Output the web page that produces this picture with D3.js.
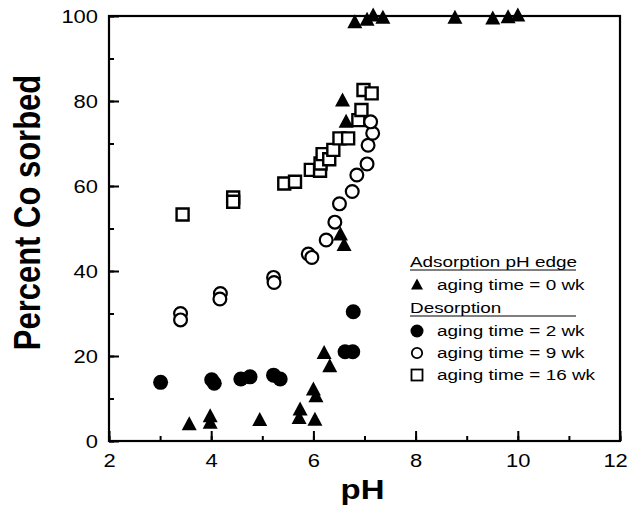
<!DOCTYPE html>
<html>
<head>
<meta charset="utf-8">
<script src="https://cdn.jsdelivr.net/npm/d3@7"></script>
<style>
  body { margin: 0; background: #fff; }
  text { font-family: "Liberation Sans", Arial, Helvetica, sans-serif; fill: #000; }
</style>
</head>
<body>
<div id="chart"></div>
<script>
// values: [pH, percent Co sorbed]
const adsorption0wk = [
  [3.57, 3.8], [3.98, 5.7], [3.98, 4.2], [4.95, 4.8], [5.72, 5.3], [5.74, 7.3],
  [6.03, 4.9], [6.0, 12], [6.05, 10.4], [6.21, 20.6], [6.32, 17.5], [6.53, 48.5],
  [6.6, 46], [6.57, 80], [6.64, 75], [6.81, 98.4], [7.05, 99], [7.17, 100],
  [7.36, 99.5], [8.77, 99.5], [9.51, 99.3], [9.81, 99.6], [10.0, 100]
];
const desorption2wk = [
  [3.01, 13.8], [4.01, 14.4], [4.06, 13.6], [4.58, 14.6], [4.76, 15.1],
  [5.22, 15.5], [5.35, 14.6], [6.62, 21], [6.77, 21], [6.78, 30.4]
];
const desorption9wk = [
  [3.4, 30], [3.4, 28.5], [4.18, 34.7], [4.17, 33.4], [5.22, 38.5], [5.23, 37.3],
  [5.9, 44], [5.97, 43.2], [6.25, 47.3], [6.42, 51.5], [6.51, 55.8], [6.76, 58.7],
  [6.85, 62.6], [7.05, 65.2], [7.07, 69.6], [7.16, 72.4], [7.12, 75.1]
];
const desorption16wk = [
  [3.44, 53.3], [4.43, 57.3], [4.43, 56.3], [5.43, 60.6], [5.64, 61], [5.95, 63.8],
  [6.13, 63.6], [6.14, 65.3], [6.18, 67.5], [6.31, 66.3], [6.39, 68.5], [6.51, 71.2],
  [6.68, 71.2], [6.88, 75.5], [6.94, 77.9], [6.98, 82.6], [7.14, 81.8]
];
const xTicks = [2, 4, 6, 8, 10, 12];
const yTicks = [0, 20, 40, 60, 80, 100];
const legendHeaders = ['Adsorption pH edge', 'Desorption'];
const legendLabels = ['aging time = 0 wk', 'aging time = 2 wk', 'aging time = 9 wk', 'aging time = 16 wk'];

const W = 631, H = 507;
const margin = { top: 16, right: 11, bottom: 66, left: 109 };
const width = W - margin.left - margin.right;
const height = H - margin.top - margin.bottom;
const STRETCH = 1.22; // glyphs in the picture are wider than tall

const svg = d3.select('#chart').append('svg')
  .attr('width', W)
  .attr('height', H);

const chart = svg.append('g')
  .attr('transform', `translate(${margin.left},${margin.top})`);

const x = d3.scaleLinear().domain([2, 12]).range([0, width]);
const y = d3.scaleLinear().domain([0, 100]).range([height, 0]);

// minor ticks (every 1 pH, every 10 %)
chart.append('g')
  .attr('transform', `translate(0,${height})`)
  .call(d3.axisBottom(x).ticks(10).tickSize(-5).tickFormat(''))
  .call(g => g.select('.domain').remove())
  .selectAll('line').attr('stroke-width', 2);
chart.append('g')
  .call(d3.axisLeft(y).ticks(10).tickSize(-5).tickFormat(''))
  .call(g => g.select('.domain').remove())
  .selectAll('line').attr('stroke-width', 2);

// major ticks
const xAxisG = chart.append('g')
  .attr('transform', `translate(0,${height})`)
  .call(d3.axisBottom(x).tickValues(xTicks).tickSize(-10).tickPadding(0));
xAxisG.select('.domain').remove();
xAxisG.selectAll('line').attr('stroke-width', 2);
xAxisG.selectAll('text')
  .attr('font-size', 18)
  .attr('y', 26)
  .attr('dy', 0)
  .attr('x', d => d === 12 ? -4 : 0)
  .attr('transform', `scale(${STRETCH},1)`);

const yAxisG = chart.append('g')
  .call(d3.axisLeft(y).tickValues(yTicks).tickSize(-10).tickPadding(0));
yAxisG.select('.domain').remove();
yAxisG.selectAll('line').attr('stroke-width', 2);
yAxisG.selectAll('text')
  .attr('font-size', 18)
  .attr('x', -11 / STRETCH)
  .attr('dy', '0.36em')
  .attr('transform', `scale(${STRETCH},1)`);

// frame
chart.append('rect')
  .attr('x', 0).attr('y', 0)
  .attr('width', width).attr('height', height)
  .attr('fill', 'none')
  .attr('stroke', '#000')
  .attr('stroke-width', 2.2);

// axis titles
svg.append('text')
  .attr('transform', `translate(${margin.left + width / 2 - 2},${H - 8}) scale(${STRETCH},1)`)
  .attr('text-anchor', 'middle')
  .attr('font-size', 27)
  .attr('font-weight', 'bold')
  .text('pH');

svg.append('text')
  .attr('transform', `translate(40,${margin.top + height / 2 - 16}) scale(${STRETCH},1) rotate(-90)`)
  .attr('text-anchor', 'middle')
  .attr('font-size', 31)
  .attr('font-weight', 'bold')
  .text('Percent Co sorbed');

// markers
const triPath = 'M0,-8.5L7.5,5.5L-7.5,5.5Z';
const squarePath = 'M-6,-6H6V6H-6Z';

chart.selectAll('.sq16')
  .data(desorption16wk)
  .join('path')
  .attr('class', 'sq16')
  .attr('d', squarePath)
  .attr('transform', d => `translate(${x(d[0])},${y(d[1])})`)
  .attr('fill', '#fff')
  .attr('stroke', '#000')
  .attr('stroke-width', 2.4);

chart.selectAll('.c9')
  .data(desorption9wk)
  .join('circle')
  .attr('class', 'c9')
  .attr('cx', d => x(d[0]))
  .attr('cy', d => y(d[1]))
  .attr('r', 6.4)
  .attr('fill', '#fff')
  .attr('stroke', '#000')
  .attr('stroke-width', 2.2);

chart.selectAll('.c2')
  .data(desorption2wk)
  .join('circle')
  .attr('class', 'c2')
  .attr('cx', d => x(d[0]))
  .attr('cy', d => y(d[1]))
  .attr('r', 7.5)
  .attr('fill', '#000');

chart.selectAll('.t0')
  .data(adsorption0wk)
  .join('path')
  .attr('class', 't0')
  .attr('d', triPath)
  .attr('transform', d => `translate(${x(d[0])},${y(d[1])})`)
  .attr('fill', '#000');

// legend
const lx = 410, symX = 417, textX = 437;
const headerY = [267, 313];
const itemY = [290, 336, 358, 380];

const legend = svg.append('g').attr('class', 'legend');
legendHeaders.forEach((h, i) => {
  legend.append('text')
    .attr('transform', `translate(${lx},${headerY[i]}) scale(${STRETCH},1)`)
    .attr('font-size', 15.5)
    .text(h);
  legend.append('line')
    .attr('x1', lx).attr('x2', 576)
    .attr('y1', headerY[i] + 3).attr('y2', headerY[i] + 3)
    .attr('stroke', '#000')
    .attr('stroke-width', 1.2);
});
legendLabels.forEach((t, i) => {
  legend.append('text')
    .attr('transform', `translate(${textX},${itemY[i]}) scale(${STRETCH},1)`)
    .attr('font-size', 15.5)
    .text(t);
});
legend.append('path')
  .attr('d', 'M0,-6.5L6,4.5L-6,4.5Z')
  .attr('transform', `translate(${symX},${itemY[0] - 5})`)
  .attr('fill', '#000');
legend.append('circle')
  .attr('cx', symX).attr('cy', itemY[1] - 5).attr('r', 6.5)
  .attr('fill', '#000');
legend.append('circle')
  .attr('cx', symX).attr('cy', itemY[2] - 5).attr('r', 5.2)
  .attr('fill', '#fff').attr('stroke', '#000').attr('stroke-width', 1.8);
legend.append('rect')
  .attr('x', symX - 5.5).attr('y', itemY[3] - 10.5)
  .attr('width', 11).attr('height', 11)
  .attr('fill', '#fff').attr('stroke', '#000').attr('stroke-width', 1.8);
</script>
</body>
</html>
